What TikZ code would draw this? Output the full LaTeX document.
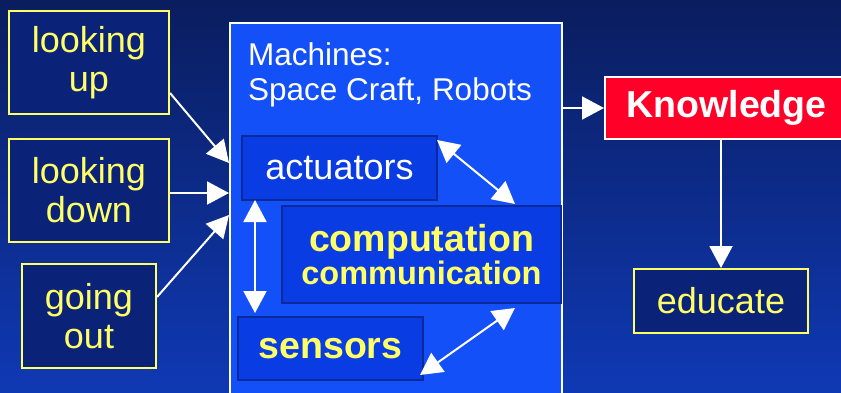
\documentclass[tikz,border=0pt]{standalone}
\usepackage{fontspec}
\setmainfont{Liberation Sans}
\usetikzlibrary{arrows.meta}

\definecolor{bgtop}{HTML}{0A1D5E}
\definecolor{bgbot}{HTML}{0F39B4}
\definecolor{navy}{HTML}{0A2278}
\definecolor{hiyellow}{HTML}{FFFF66}
\definecolor{machblue}{HTML}{1450F8}
\definecolor{partblue}{HTML}{0A3CE4}
\definecolor{partedge}{HTML}{0A2A9C}
\definecolor{knowred}{HTML}{FF0028}

\tikzset{
  topic/.style={draw=hiyellow, line width=2pt, fill=navy, text=hiyellow,
    inner sep=0pt, align=center, font=\fontsize{36}{39}\selectfont},
  part/.style={draw=partedge, line width=2pt, fill=partblue,
    inner sep=0pt, align=center},
  flow/.style={draw=white, line width=2pt, -{Triangle[length=22pt,width=23pt]}},
  twoway/.style={draw=white, line width=2pt,
    {Triangle[length=22pt,width=23pt]}-{Triangle[length=22pt,width=23pt]}},
}

\begin{document}
\begin{tikzpicture}[x=1pt,y=-1pt]
  % background
  \shade[top color=bgtop, bottom color=bgbot] (0,0) rectangle (841,392);
  \useasboundingbox (0,0) rectangle (841,392);
  \clip (0,0) rectangle (841,392);

  % observation modes
  \node[topic, minimum width=160pt, minimum height=103pt] (up) at (89,62.5) {looking\\up};
  \node[topic, minimum width=160pt, minimum height=103pt] (down) at (89,190) {looking\\down};
  \node[topic, minimum width=134pt, minimum height=104pt] (out) at (89,316) {going\\out};

  % machines container
  \node[draw=white, line width=1.5pt, fill=machblue, minimum width=332pt,
        minimum height=380pt, inner sep=0pt] (mach) at (396,213) {};
  \node[text=white, anchor=base west, align=left, inner sep=0pt,
        font=\fontsize{31.5}{35}\selectfont] (machlabel) at (248,100)
        {Machines:\\Space Craft, Robots};

  % parts of the machine
  \node[part, text=white, minimum width=195pt, minimum height=64pt,
        font=\fontsize{36}{39}\selectfont] (act) at (339.5,168) {actuators};
  \node[part, text=hiyellow, minimum width=279pt, minimum height=97pt,
        font=\bfseries] (comp) at (421.5,254.5)
        {\fontsize{37.5}{35}\selectfont computation\\\fontsize{32.5}{35}\selectfont communication};
  \node[part, text=hiyellow, minimum width=185pt, minimum height=63pt,
        font=\bfseries\fontsize{37.5}{39}\selectfont] (sens) at (330.5,348.5) {sensors};

  % outputs
  \node[draw=white, line width=2pt, fill=knowred, text=white, inner sep=0pt,
        minimum width=243pt, minimum height=62pt,
        font=\bfseries\fontsize{37.5}{39}\selectfont] (know) at (726.5,108) {Knowledge};
  \node[topic, minimum width=174pt, minimum height=64pt] (edu) at (721,301) {educate};

  % arrow ends on the container's left side
  \coordinate (in1) at (229,163);
  \coordinate (in2) at (229,193);
  \coordinate (in3) at (229,215);

  \draw[flow] (up.east |- 0,93) -- (in1);
  \draw[flow] (down.east |- 0,193) -- (in2);
  \draw[flow] (out.east |- 0,297) -- (in3);

  % links between the parts
  \coordinate (a1) at (437,140);
  \coordinate (c1) at (515,204);
  \coordinate (a2) at (255,200);
  \coordinate (s2) at (255,313);
  \coordinate (s1) at (420,375);
  \coordinate (c2) at (515,308);
  \draw[twoway] (a1) -- (c1);
  \draw[twoway] (a2) -- (s2);
  \draw[twoway] (s1) -- (c2);

  \draw[flow] (mach.east |- know.west) -- (know.west);
  \draw[flow] (know.south -| edu.north) -- (edu.north);
\end{tikzpicture}
\end{document}
